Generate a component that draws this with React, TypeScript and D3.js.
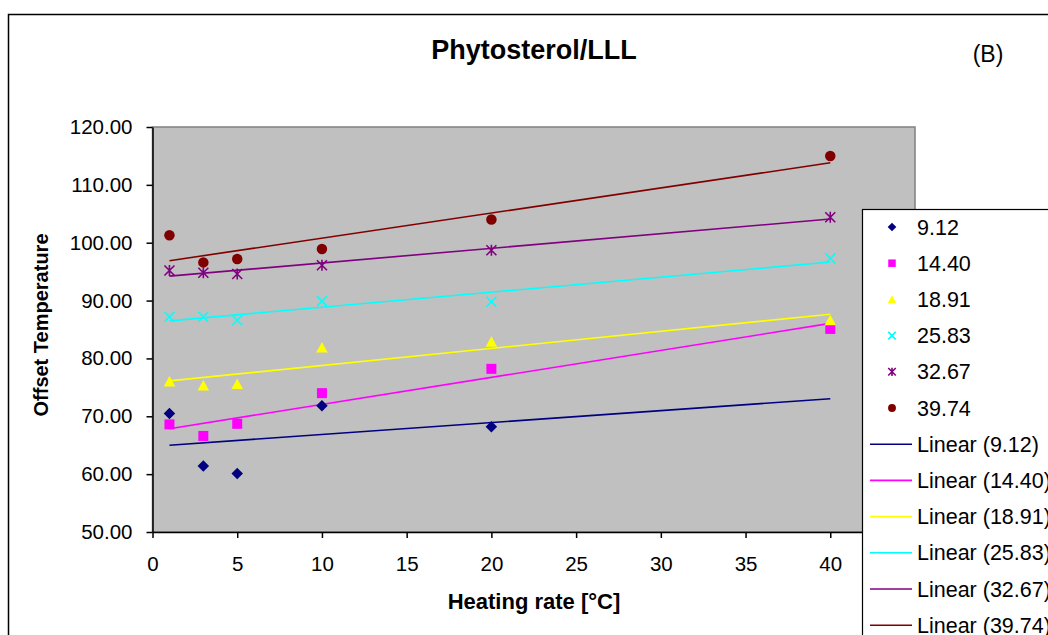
import { useEffect, useRef } from "react";
import * as d3 from "d3";

// Heating rates (x values) shared by all series
const heatingRates = [1, 3, 5, 10, 20, 40];

const seriesNames = ["9.12", "14.40", "18.91", "25.83", "32.67", "39.74"];

// Offset temperatures (null = no point)
const s912 = [70.5, 61.4, 60.1, 71.8, 68.2, null];
const s1440 = [68.6, 66.6, 68.7, 74.0, 78.2, 85.1];
const s1891 = [76.0, 75.3, 75.6, 81.9, 82.9, 86.6];
const s2583 = [87.2, 87.2, 86.6, 89.9, 89.8, 97.3];
const s3267 = [95.2, 94.8, 94.6, 96.1, 98.7, 104.4];
const s3974 = [101.3, 96.6, 97.2, 98.9, 104.0, 115.0];

const seriesValues = [s912, s1440, s1891, s2583, s3267, s3974];
const seriesColors = ["#000080", "#FF00FF", "#FFFF00", "#00FFFF", "#800080", "#800000"];
const seriesMarkers = ["diamond", "square", "triangle", "x", "star", "circle"];

const xTicks = [0, 5, 10, 15, 20, 25, 30, 35, 40, 45];
const yTicks = [50, 60, 70, 80, 90, 100, 110, 120];

const FONT = "'Liberation Sans', Arial, sans-serif";

// least squares fit
function linearFit(xs: number[], ys: (number | null)[]) {
  const pts = xs.map((x, i) => [x, ys[i]]).filter(p => p[1] != null) as number[][];
  const mx = d3.mean(pts, p => p[0])!;
  const my = d3.mean(pts, p => p[1])!;
  const sxy = d3.sum(pts, p => (p[0] - mx) * (p[1] - my));
  const sxx = d3.sum(pts, p => (p[0] - mx) ** 2);
  const slope = sxy / sxx;
  return (x: number) => my + slope * (x - mx);
}

function drawMarker(g: any, kind: string, color: string, scale: number) {
  const r = 5 * scale;
  if (kind === "diamond") {
    const d = r * 1.15;
    g.append("path").attr("d", `M0,${-d}L${d},0L0,${d}L${-d},0Z`).attr("fill", color);
  } else if (kind === "square") {
    g.append("rect").attr("x", -r).attr("y", -r).attr("width", 2 * r).attr("height", 2 * r).attr("fill", color);
  } else if (kind === "triangle") {
    g.append("path").attr("d", `M0,${-r * 1.1}L${r * 1.15},${r}L${-r * 1.15},${r}Z`).attr("fill", color);
  } else if (kind === "circle") {
    g.append("circle").attr("r", r * 1.05).attr("fill", color);
  } else {
    const d = `M${-r},${-r}L${r},${r}M${-r},${r}L${r},${-r}` + (kind === "star" ? `M0,${-r * 1.1}L0,${r * 1.1}` : "");
    g.append("path").attr("d", d).attr("stroke", color).attr("stroke-width", 1.6).attr("fill", "none");
  }
}

export default function App() {
  const ref = useRef<SVGSVGElement>(null);
  const width = 1048;
  const height = 635;
  const plot = { left: 152.5, top: 127, right: 915, bottom: 532 };

  useEffect(() => {
    document.body.style.margin = "0";
    const svg = d3.select(ref.current);
    svg.selectAll("*").remove();

    const x = d3.scaleLinear().domain([0, 45]).range([plot.left, plot.right]);
    const y = d3.scaleLinear().domain([50, 120]).range([plot.bottom, plot.top]);

    // outer chart frame
    svg.append("rect")
      .attr("x", 8.5).attr("y", 14.5).attr("width", 1200).attr("height", 800)
      .attr("fill", "white").attr("stroke", "black").attr("stroke-width", 1.5);

    // plot area
    svg.append("rect")
      .attr("x", plot.left).attr("y", plot.top)
      .attr("width", plot.right - plot.left).attr("height", plot.bottom - plot.top)
      .attr("fill", "#C0C0C0").attr("stroke", "#808080").attr("stroke-width", 1.5);

    // Y axis
    const yAxis = svg.append("g")
      .attr("transform", `translate(${plot.left},0)`)
      .call(d3.axisLeft(y).tickValues(yTicks).tickFormat(d3.format(".2f")).tickSize(6).tickSizeOuter(0).tickPadding(14));
    yAxis.selectAll("text").style("font-size", "20.5px").style("font-family", FONT).style("fill", "black");
    yAxis.selectAll("line, path").attr("stroke", "black").attr("stroke-width", 1.5);

    // X axis (the 45 label sits under the legend in the original)
    const xAxis = svg.append("g")
      .attr("transform", `translate(0,${plot.bottom})`)
      .call(d3.axisBottom(x).tickValues(xTicks).tickFormat(d => (+d >= 45 ? "" : d3.format("d")(d))).tickSize(6).tickSizeOuter(0).tickPadding(18));
    xAxis.selectAll("text").style("font-size", "20.5px").style("font-family", FONT).style("fill", "black");
    xAxis.selectAll("line, path").attr("stroke", "black").attr("stroke-width", 1.5);

    // trend lines
    const x0 = d3.min(heatingRates)!;
    const x1 = d3.max(heatingRates)!;
    seriesValues.forEach((vals, i) => {
      const f = linearFit(heatingRates, vals);
      svg.append("line")
        .attr("x1", x(x0)).attr("y1", y(f(x0)))
        .attr("x2", x(x1)).attr("y2", y(f(x1)))
        .attr("stroke", seriesColors[i]).attr("stroke-width", 1.6);
    });

    // markers
    seriesValues.forEach((vals, i) => {
      vals.forEach((v, j) => {
        if (v == null) return;
        const g = svg.append("g").attr("transform", `translate(${x(heatingRates[j])},${y(v)})`);
        drawMarker(g, seriesMarkers[i], seriesColors[i], 1);
      });
    });

    // titles
    svg.append("text")
      .attr("x", 534).attr("y", 59).attr("text-anchor", "middle")
      .style("font-family", FONT).style("font-size", "27px").style("font-weight", "bold")
      .text("Phytosterol/LLL");

    svg.append("text")
      .attr("x", 988).attr("y", 62).attr("text-anchor", "middle")
      .style("font-family", FONT).style("font-size", "23px")
      .text("(B)");

    svg.append("text")
      .attr("x", 534).attr("y", 609).attr("text-anchor", "middle")
      .style("font-family", FONT).style("font-size", "22px").style("font-weight", "bold")
      .text("Heating rate [°C]");

    svg.append("text")
      .attr("transform", "translate(48,325) rotate(-90)").attr("text-anchor", "middle")
      .style("font-family", FONT).style("font-size", "20px").style("font-weight", "bold")
      .text("Offset Temperature");

    // legend
    const legend = svg.append("g").attr("transform", "translate(862,209)");
    legend.append("rect")
      .attr("x", 0.5).attr("y", 0.5).attr("width", 400).attr("height", 600)
      .attr("fill", "white").attr("stroke", "black").attr("stroke-width", 1.2);

    const entries = [
      ...seriesNames.map((n, i) => ({ label: n, i, kind: "marker" })),
      ...seriesNames.map((n, i) => ({ label: `Linear (${n})`, i, kind: "line" })),
    ];
    entries.forEach((e, k) => {
      const cy = 18 + k * 36.2;
      if (e.kind === "marker") {
        const g = legend.append("g").attr("transform", `translate(30,${cy})`);
        drawMarker(g, seriesMarkers[e.i], seriesColors[e.i], 0.75);
      } else {
        legend.append("line")
          .attr("x1", 8).attr("x2", 50).attr("y1", cy).attr("y2", cy)
          .attr("stroke", seriesColors[e.i]).attr("stroke-width", 1.6);
      }
      legend.append("text")
        .attr("x", 55).attr("y", cy + 7.5)
        .style("font-family", FONT).style("font-size", "21.5px")
        .text(e.label);
    });
  }, []);

  return <svg ref={ref} width={width} height={height} style={{ display: "block" }} />;
}
